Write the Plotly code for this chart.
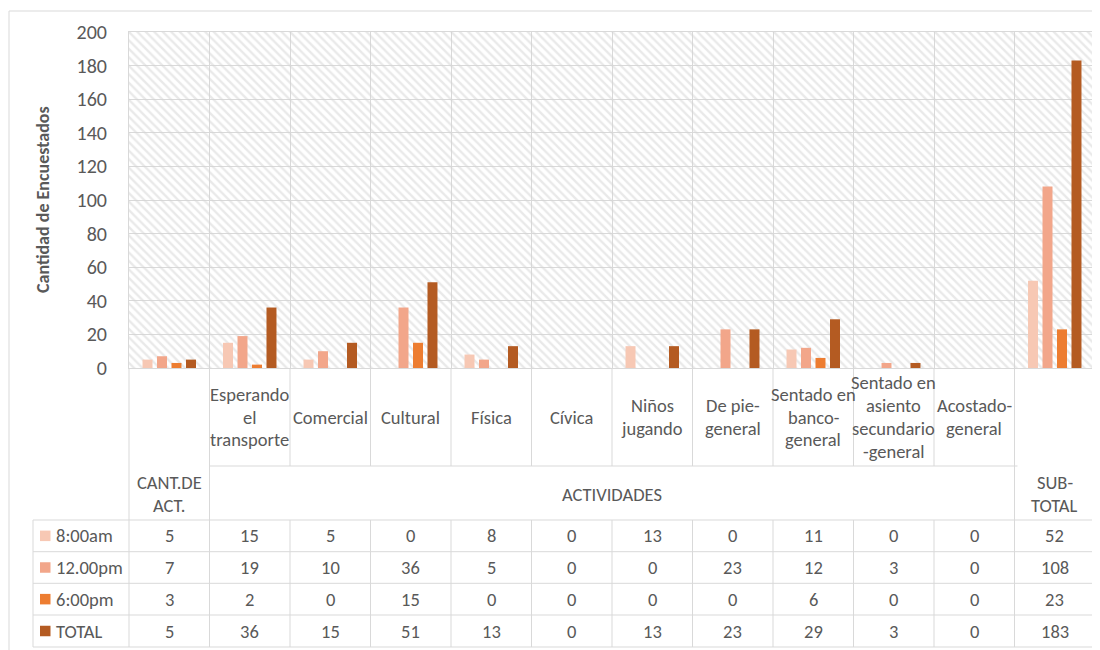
import plotly.graph_objects as go

# ---------------- data ----------------
categories = ["CANT.DE ACT.", "Esperando el transporte", "Comercial", "Cultural", "Física",
              "Cívica", "Niños jugando", "De pie-general", "Sentado en banco-general",
              "Sentado en asiento secundario-general", "Acostado-general", "SUB-TOTAL"]
level1_labels = [[], ["Esperando", "el", "transporte"], ["Comercial"], ["Cultural"], ["Física"],
                 ["Cívica"], ["Niños", "jugando"], ["De pie-", "general"],
                 ["Sentado en", "banco-", "general"],
                 ["Sentado en", "asiento", "secundario", "-general"],
                 ["Acostado-", "general"], []]
level2_groups = [(["CANT.DE", "ACT."], 0, 0), (["ACTIVIDADES"], 1, 10), (["SUB-", "TOTAL"], 11, 11)]

series_names = ["8:00am", "12.00pm", "6:00pm", "TOTAL"]
s_8am = [5, 15, 5, 0, 8, 0, 13, 0, 11, 0, 0, 52]
s_12pm = [7, 19, 10, 36, 5, 0, 0, 23, 12, 3, 0, 108]
s_6pm = [3, 2, 0, 15, 0, 0, 0, 0, 6, 0, 0, 23]
s_total = [5, 36, 15, 51, 13, 0, 13, 23, 29, 3, 0, 183]
series_values = [s_8am, s_12pm, s_6pm, s_total]

y_title = "Cantidad de Encuestados"

# ---------------- styles / layout ----------------
colors = ["#F7C8B4", "#F2A68A", "#ED7D31", "#B45B22"]
grid_col = "#D9D9D9"
text_col = "#595959"
FONT = "Carlito, Lato, sans-serif"

OFF = 8                      # page body offset of the figure in the window
W, H = 1092, 642
PLOT_L, PLOT_R, PLOT_T, PLOT_B = 129, 1095, 32, 368   # plot area in window pixels
L = PLOT_L - OFF
T = PLOT_T - OFF
R = W - (PLOT_R - OFF)
B = H - (PLOT_B - OFF)
PW, PH = PLOT_R - PLOT_L, PLOT_B - PLOT_T
n = len(categories)


def px_x(px):
    return (px - PLOT_L) / PW


def px_y(py):
    return (PLOT_B - py) / PH


def kx(k):
    return k / n


fig = go.Figure()

# hatched plot background (base subplot, drawn under the data subplot)
fig.add_trace(go.Bar(
    x=[0.5], y=[1], width=[1], xaxis="x", yaxis="y", showlegend=False, hoverinfo="skip",
    marker=dict(color="rgba(0,0,0,0)", line=dict(width=0),
                pattern=dict(shape="\\", fgcolor="#D4D4D4", bgcolor="rgba(0,0,0,0)",
                             size=6, solidity=0.4)),
))

for name, vals, c in zip(series_names, series_values, colors):
    fig.add_trace(go.Bar(x=categories, y=vals, name=name, marker=dict(color=c, line=dict(width=0)),
                         xaxis="x2", yaxis="y2", showlegend=False))

shapes = []
line = dict(color=grid_col, width=1)

y_l1_px, y_l2_px = 466, 520
row_px = [520, 551.7, 583.3, 615, 647]
for k in range(n + 1):
    shapes.append(dict(type="line", xref="paper", yref="paper", x0=kx(k), x1=kx(k),
                       y0=px_y(PLOT_B), y1=px_y(y_l1_px), line=line))
    shapes.append(dict(type="line", xref="paper", yref="paper", x0=kx(k), x1=kx(k),
                       y0=px_y(y_l2_px), y1=px_y(row_px[-1]), line=line))
for _, a, b in level2_groups:
    for k in (a, b + 1):
        shapes.append(dict(type="line", xref="paper", yref="paper", x0=kx(k), x1=kx(k),
                           y0=px_y(y_l1_px), y1=px_y(y_l2_px), line=line))
shapes.append(dict(type="line", xref="paper", yref="paper", x0=kx(1), x1=kx(n - 1) + 3 / PW,
                   y0=px_y(y_l1_px), y1=px_y(y_l1_px), line=line))
legend_left = 33
for py in row_px:
    shapes.append(dict(type="line", xref="paper", yref="paper", x0=px_x(legend_left), x1=1,
                       y0=px_y(py), y1=px_y(py), line=line))
shapes.append(dict(type="line", xref="paper", yref="paper", x0=px_x(legend_left), x1=px_x(legend_left),
                   y0=px_y(row_px[0]), y1=px_y(row_px[-1]), line=line))
# outer chart border
shapes.append(dict(type="line", xref="paper", yref="paper", x0=px_x(9), x1=px_x(9),
                   y0=px_y(11), y1=px_y(OFF + H), line=line))
shapes.append(dict(type="line", xref="paper", yref="paper", x0=px_x(9), x1=px_x(OFF + W),
                   y0=px_y(11), y1=px_y(11), line=line))

annotations = []
fnt = dict(family=FONT, size=18.5, color=text_col)
line_h = 23

l1_center = 417
for cat, lines in zip(categories, level1_labels):
    m = len(lines)
    for i, t in enumerate(lines):
        py = l1_center + (i - (m - 1) / 2) * line_h
        annotations.append(dict(x=cat, xref="x2", y=px_y(py), yref="paper", text=t, showarrow=False,
                                xanchor="center", yanchor="middle", font=fnt))
l2_center = 494.5
for lines, a, b in level2_groups:
    xc = (kx(a) + kx(b + 1)) / 2
    m = len(lines)
    for i, t in enumerate(lines):
        py = l2_center + (i - (m - 1) / 2) * line_h
        annotations.append(dict(x=xc, xref="paper", y=px_y(py), yref="paper", text=t, showarrow=False,
                                xanchor="center", yanchor="middle", font=fnt))

for r, (name, vals, c) in enumerate(zip(series_names, series_values, colors)):
    yc = (row_px[r] + row_px[r + 1]) / 2
    for cat, v in zip(categories, vals):
        annotations.append(dict(x=cat, xref="x2", y=px_y(yc), yref="paper", text=str(v), showarrow=False,
                                xanchor="center", yanchor="middle", font=fnt))
    annotations.append(dict(x=px_x(54), xref="paper", y=px_y(yc), yref="paper", text=name, showarrow=False,
                            xanchor="left", yanchor="middle", font=fnt))
    shapes.append(dict(type="rect", xref="paper", yref="paper", x0=px_x(40), x1=px_x(50.5),
                       y0=px_y(yc - 5.25), y1=px_y(yc + 5.25), fillcolor=c, line=dict(width=0)))

annotations.append(dict(x=px_x(43), xref="paper", y=px_y(200), yref="paper", text=f"<b>{y_title}</b>",
                        textangle=-90, showarrow=False, xanchor="center", yanchor="middle",
                        font=dict(family=FONT, size=18, color=text_col)))

fig.update_layout(
    width=W, height=H,
    margin=dict(l=L, r=R, t=T, b=B, pad=0),
    paper_bgcolor="white", plot_bgcolor="white",
    barmode="group", bargap=0.28, bargroupgap=0.31,
    showlegend=False,
    font=dict(family=FONT, color=text_col),
    xaxis=dict(range=[0, 1], visible=False, fixedrange=True),
    yaxis=dict(range=[0, 1], visible=False, fixedrange=True),
    xaxis2=dict(overlaying="x", type="category", categoryorder="array", categoryarray=categories,
                tickson="boundaries", showgrid=True, gridcolor=grid_col, gridwidth=1,
                showticklabels=False, ticks="", showline=True, linecolor=grid_col, linewidth=1,
                mirror=True, zeroline=False, anchor="y2"),
    yaxis2=dict(overlaying="y", side="left", range=[0, 200], dtick=20, showgrid=True,
                gridcolor=grid_col, gridwidth=1, showline=True, linecolor=grid_col, linewidth=1,
                mirror=True, zeroline=False, ticks="", ticklabelstandoff=17,
                tickfont=dict(family=FONT, size=20, color=text_col), anchor="x2"),
    shapes=shapes, annotations=annotations,
)

fig.write_html("out.html")
